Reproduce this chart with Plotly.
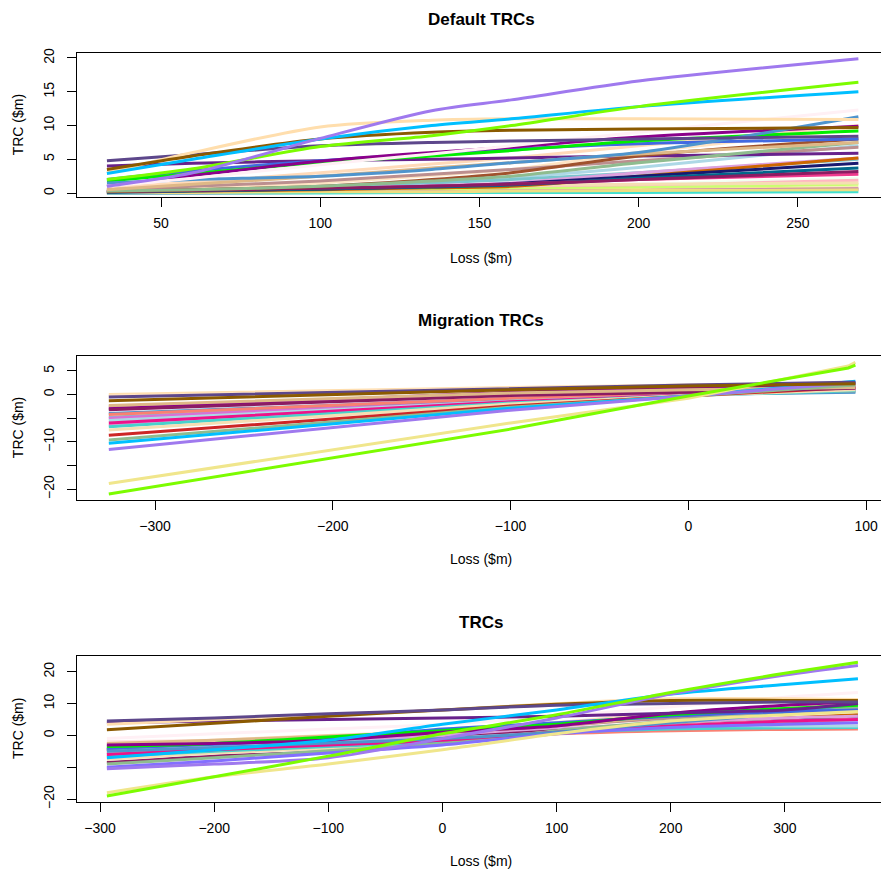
import plotly.graph_objects as go

W, H = 881, 880

# ---------------- Panel 1: Default TRCs ----------------
default_x = [33, 60, 100, 135, 160, 200, 269]
default_colors = [
    "#FFE4C4", "#ADD8E6", "#F0FFF0", "#FFB6C1", "#CAFF70", "#F0E68C", "#B452CD",
    "#40E0D0", "#EEDD82", "#F5DEB3", "#7AC5CD", "#FFDAB9", "#BC8F8F", "#DDA0DD",
    "#CD6600", "#191970", "#EE3A8C", "#00688B", "#8B1C62", "#68228B", "#A0522D",
    "#8FBC8F", "#DEB887", "#4169E1", "#00EE00", "#8B008B", "#4F94CD", "#FFF0F5",
    "#5D478B", "#FFDEAD", "#8B5A00", "#00BFFF", "#7CFC00", "#9F79EE",
]
default_y = [
    [0.3, 0.6, 1.5, 2.6, 3.5, 6.0, 9.5],
    [0.1, 0.3, 0.8, 1.5, 2.3, 3.8, 7.0],
    [0.0, 0.1, 0.3, 0.6, 0.9, 1.3, 2.2],
    [0.0, 0.1, 0.3, 0.5, 0.8, 1.1, 1.9],
    [0.0, 0.1, 0.2, 0.4, 0.6, 0.8, 1.3],
    [0.0, 0.0, 0.1, 0.2, 0.3, 0.5, 0.8],
    [0.0, 0.0, 0.1, 0.2, 0.3, 0.4, 0.6],
    [0.0, 0.0, 0.0, 0.1, 0.1, 0.1, 0.2],
    [0.1, 0.1, 0.2, 0.2, 0.3, 0.4, 0.5],
    [0.5, 0.6, 0.8, 1.0, 1.1, 1.3, 1.5],
    [0.3, 0.5, 0.9, 1.5, 2.0, 3.0, 5.0],
    [0.8, 1.6, 3.0, 4.3, 5.2, 7.0, 10.0],
    [0.5, 1.0, 1.8, 2.8, 3.5, 4.8, 6.8],
    [0.1, 0.3, 0.6, 1.1, 1.5, 3.0, 5.2],
    [0.2, 0.3, 0.5, 0.8, 1.0, 2.5, 5.2],
    [0.2, 0.4, 0.6, 1.0, 1.4, 2.5, 4.4],
    [0.3, 0.5, 0.7, 1.0, 1.3, 2.0, 2.8],
    [0.1, 0.3, 0.6, 0.9, 1.2, 2.2, 3.7],
    [0.2, 0.4, 0.7, 1.0, 1.3, 2.0, 3.2],
    [4.0, 4.4, 4.8, 5.0, 5.2, 5.5, 5.9],
    [0.2, 0.5, 1.0, 2.0, 3.0, 5.5, 8.0],
    [0.3, 0.5, 1.0, 1.8, 2.5, 4.5, 7.5],
    [0.5, 1.3, 2.5, 3.7, 4.5, 5.8, 7.5],
    [2.0, 3.3, 4.8, 5.8, 6.5, 7.3, 8.0],
    [1.8, 2.9, 4.5, 5.5, 6.3, 7.7, 9.2],
    [1.0, 2.6, 4.7, 6.0, 6.8, 8.3, 9.9],
    [1.5, 2.0, 2.5, 3.5, 4.5, 6.0, 11.3],
    [1.0, 2.2, 4.2, 5.8, 7.0, 9.0, 12.3],
    [4.8, 5.7, 7.0, 7.5, 7.7, 8.0, 8.4],
    [3.0, 6.0, 9.8, 10.8, 11.0, 11.0, 10.9],
    [3.5, 5.5, 8.0, 9.0, 9.3, 9.5, 9.7],
    [2.9, 5.0, 8.0, 10.0, 11.0, 12.8, 15.0],
    [2.0, 3.6, 6.9, 8.5, 10.0, 12.8, 16.4],
    [1.0, 3.0, 8.1, 12.2, 13.8, 16.6, 19.9],
]

# ---------------- Panel 2: Migration TRCs ----------------
migration_x = [-326, -100, 0, 90, 94]
migration_colors = [
    "#FFDEAD", "#FFE4C4", "#7AC5CD", "#DA70D6", "#DDA0DD", "#BC8F8F", "#8B008B",
    "#4F94CD", "#FA8072", "#ADD8E6", "#EE1289", "#48D1CC", "#F5DEB3", "#CD2626",
    "#8B1C62", "#DEB887", "#8FBC8F", "#00BFFF", "#9F79EE", "#F0E68C", "#5D478B",
    "#8B5A00", "#7CFC00",
]
migration_y = [
    [0.0, 1.5, 2.0, 2.4, 2.4],
    [-0.3, 1.3, 1.8, 2.1, 2.1],
    [-4.8, -1.0, 0.0, 0.6, 0.6],
    [-5.0, -1.0, 0.3, 1.2, 1.2],
    [-6.5, -1.5, 0.2, 1.8, 1.8],
    [-2.6, 0.2, 1.0, 2.0, 2.0],
    [-3.0, 0.5, 1.5, 2.4, 2.4],
    [-4.0, -0.9, 0.0, 0.5, 0.5],
    [-4.2, -0.8, 0.1, 0.8, 0.8],
    [-5.5, -1.4, -0.1, 1.0, 1.0],
    [-6.0, -1.5, -0.1, 1.2, 1.2],
    [-6.8, -1.8, -0.2, 0.8, 0.8],
    [-7.5, -2.0, -0.2, 1.0, 1.0],
    [-8.6, -2.4, -0.3, 1.5, 1.5],
    [-3.2, -0.2, 0.5, 1.3, 1.3],
    [-2.3, 0.3, 1.0, 1.5, 1.5],
    [-9.6, -2.7, -0.3, 2.0, 2.0],
    [-10.3, -2.9, -0.3, 2.8, 2.8],
    [-11.6, -3.3, -0.3, 2.5, 2.5],
    [-18.8, -6.0, -0.8, 6.0, 6.8],
    [-0.5, 1.3, 2.0, 2.6, 2.6],
    [-1.3, 1.0, 1.8, 2.3, 2.3],
    [-21.0, -7.3, -0.3, 5.6, 6.2],
]

# ---------------- Panel 3: TRCs ----------------
trc_x = [-294, -200, -100, 0, 100, 200, 300, 364]
trc_colors = [
    "#FFE4E1", "#CD6600", "#191970", "#FFDAB9", "#BC8F8F", "#DDA0DD", "#8B1C62",
    "#F5DEB3", "#FA8072", "#48D1CC", "#ADD8E6", "#8FBC8F", "#DEB887", "#EE1289",
    "#4F94CD", "#FFF0F5", "#4169E1", "#00EE00", "#8B008B", "#68228B", "#836FFF",
    "#FFDEAD", "#8B5A00", "#5D478B", "#00BFFF", "#9F79EE", "#F0E68C", "#7CFC00",
]
trc_y = [
    [-2.0, -1.5, -0.8, 0.0, 0.8, 1.5, 2.3, 3.0],
    [-4.5, -3.0, -1.8, -0.5, 1.5, 3.5, 5.5, 6.5],
    [-4.5, -3.5, -2.5, -1.5, 1.0, 3.0, 5.0, 6.0],
    [-3.0, -1.5, 0.0, 1.5, 4.0, 7.0, 9.0, 10.0],
    [-4.0, -2.5, -1.0, 0.5, 3.0, 5.5, 7.5, 8.5],
    [-6.0, -4.0, -2.0, 0.0, 2.0, 4.0, 5.5, 6.0],
    [-8.5, -6.5, -5.0, -1.0, 1.5, 3.0, 4.3, 5.0],
    [-7.5, -5.5, -4.0, -2.5, 0.5, 3.0, 4.5, 5.0],
    [-5.5, -4.0, -2.8, -1.5, 0.5, 1.5, 1.9, 2.0],
    [-6.5, -5.0, -3.5, -2.0, 0.8, 2.0, 2.4, 2.5],
    [-5.0, -3.5, -2.2, -1.0, 1.0, 3.0, 3.0, 3.0],
    [-9.0, -7.0, -4.8, -2.5, 1.5, 4.5, 7.5, 9.0],
    [-2.5, -1.5, -0.2, 1.0, 3.0, 6.0, 7.2, 7.5],
    [-6.0, -4.5, -3.0, -1.5, 1.0, 3.0, 4.5, 5.0],
    [-5.0, -3.8, -2.4, -1.0, 1.0, 4.0, 7.0, 10.0],
    [-1.0, 0.5, 2.0, 3.5, 6.0, 9.0, 12.0, 13.5],
    [-4.0, -2.8, -1.0, 2.0, 4.0, 6.0, 7.5, 8.0],
    [-3.5, -2.5, -0.5, 1.5, 3.5, 6.5, 8.5, 9.5],
    [-3.0, -2.5, -1.5, 1.0, 3.0, 7.0, 9.5, 10.5],
    [4.0, 4.5, 5.0, 5.5, 6.0, 7.0, 8.0, 10.0],
    [-10.0, -8.0, -5.5, -3.0, 0.5, 2.5, 3.5, 4.0],
    [3.5, 5.0, 6.5, 8.0, 10.0, 11.5, 11.5, 11.3],
    [1.8, 3.8, 6.0, 8.0, 9.8, 11.0, 11.0, 11.0],
    [4.5, 5.5, 6.8, 8.0, 9.5, 10.0, 10.5, 10.5],
    [-7.0, -4.5, -1.5, 3.5, 8.0, 13.0, 16.0, 17.8],
    [-10.5, -9.0, -7.0, -1.0, 5.5, 13.0, 19.0, 22.0],
    [-18.0, -13.0, -9.0, -4.5, 0.5, 4.5, 6.5, 7.5],
    [-19.0, -13.0, -6.5, 0.5, 6.5, 13.5, 19.5, 23.0],
]

titles = ["Default TRCs", "Migration TRCs", "TRCs"]
x_label = "Loss ($m)"
y_label = "TRC ($m)"

fig = go.Figure()

panels = [
    (default_x, default_y, default_colors, "x", "y", "spline"),
    (migration_x, migration_y, migration_colors, "x2", "y2", "linear"),
    (trc_x, trc_y, trc_colors, "x3", "y3", "spline"),
]
for xs, ys, cols, xa, ya, shape in panels:
    for yv, c in zip(ys, cols):
        fig.add_trace(go.Scatter(x=xs, y=yv, mode="lines", xaxis=xa, yaxis=ya,
                                 line=dict(color=c, width=3, shape=shape, smoothing=0.8),
                                 showlegend=False, hoverinfo="skip"))

FONT = "Liberation Sans, Arial, Helvetica, sans-serif"
TICK_FONT = dict(family=FONT, size=14, color="black")


def px_to_paper_y(py):
    return 1 - py / H


def xaxis(rng, tickvals, ticktext, anchor):
    return dict(range=rng, domain=[77 / W, 1.0], anchor=anchor,
                showline=True, linecolor="black", linewidth=1, mirror=True,
                ticks="outside", ticklen=9, tickcolor="black", tickwidth=1,
                showgrid=False, zeroline=False, tickvals=tickvals, ticktext=ticktext,
                tickfont=TICK_FONT, ticklabelstandoff=4)


def yaxis(rng, top, bottom, tickvals, ticktext, anchor):
    return dict(range=rng, domain=[px_to_paper_y(bottom), px_to_paper_y(top)], anchor=anchor,
                showline=True, linecolor="black", linewidth=1, mirror=False,
                ticks="outside", ticklen=9, tickcolor="black", tickwidth=1,
                showgrid=False, zeroline=False, tickvals=tickvals, ticktext=ticktext,
                tickangle=-90, tickfont=TICK_FONT, ticklabelstandoff=7)


fig.update_layout(
    width=W, height=H, margin=dict(l=0, r=0, t=0, b=0),
    paper_bgcolor="white", plot_bgcolor="white",
    xaxis=xaxis([23.6, 276.1], [50, 100, 150, 200, 250], ["50", "100", "150", "200", "250"], "y"),
    yaxis=yaxis([-0.63, 20.69], 49, 195, [0, 5, 10, 15, 20], ["0", "5", "10", "15", "20"], "x"),
    xaxis2=xaxis([-343.9, 108.4], [-300, -200, -100, 0, 100],
                 ["\u2212300", "\u2212200", "\u2212100", "0", "100"], "y2"),
    yaxis2=yaxis([-22.3, 8.1], 356, 502, [-20, -15, -10, -5, 0, 5],
                 ["\u221220", "", "\u221210", "", "0", "5"], "x2"),
    xaxis3=xaxis([-320.2, 384.2], [-300, -200, -100, 0, 100, 200, 300],
                 ["\u2212300", "\u2212200", "\u2212100", "0", "100", "200", "300"], "y3"),
    yaxis3=yaxis([-20.9, 24.95], 660, 808, [-20, -10, 0, 10, 20],
                 ["\u221220", "", "0", "10", "20"], "x3"),
)

ann = []
title_y = [15, 320, 626]
xlab_y = [257, 562, 868]
ylab_y = [122, 429, 734]
for t, ty, xy, yy in zip(titles, title_y, xlab_y, ylab_y):
    ann.append(dict(text="<b>" + t + "</b>", x=481 / W, y=px_to_paper_y(ty), xref="paper", yref="paper",
                    showarrow=False, xanchor="center", yanchor="middle",
                    font=dict(family=FONT, size=17, color="black")))
    ann.append(dict(text=x_label, x=481 / W, y=px_to_paper_y(xy), xref="paper", yref="paper",
                    showarrow=False, xanchor="center", yanchor="middle",
                    font=dict(family=FONT, size=14, color="black")))
    ann.append(dict(text=y_label, x=18 / W, y=px_to_paper_y(yy), xref="paper", yref="paper",
                    showarrow=False, xanchor="center", yanchor="middle", textangle=-90,
                    font=dict(family=FONT, size=14, color="black")))
fig.update_layout(annotations=ann)

fig.write_html("out.html")
